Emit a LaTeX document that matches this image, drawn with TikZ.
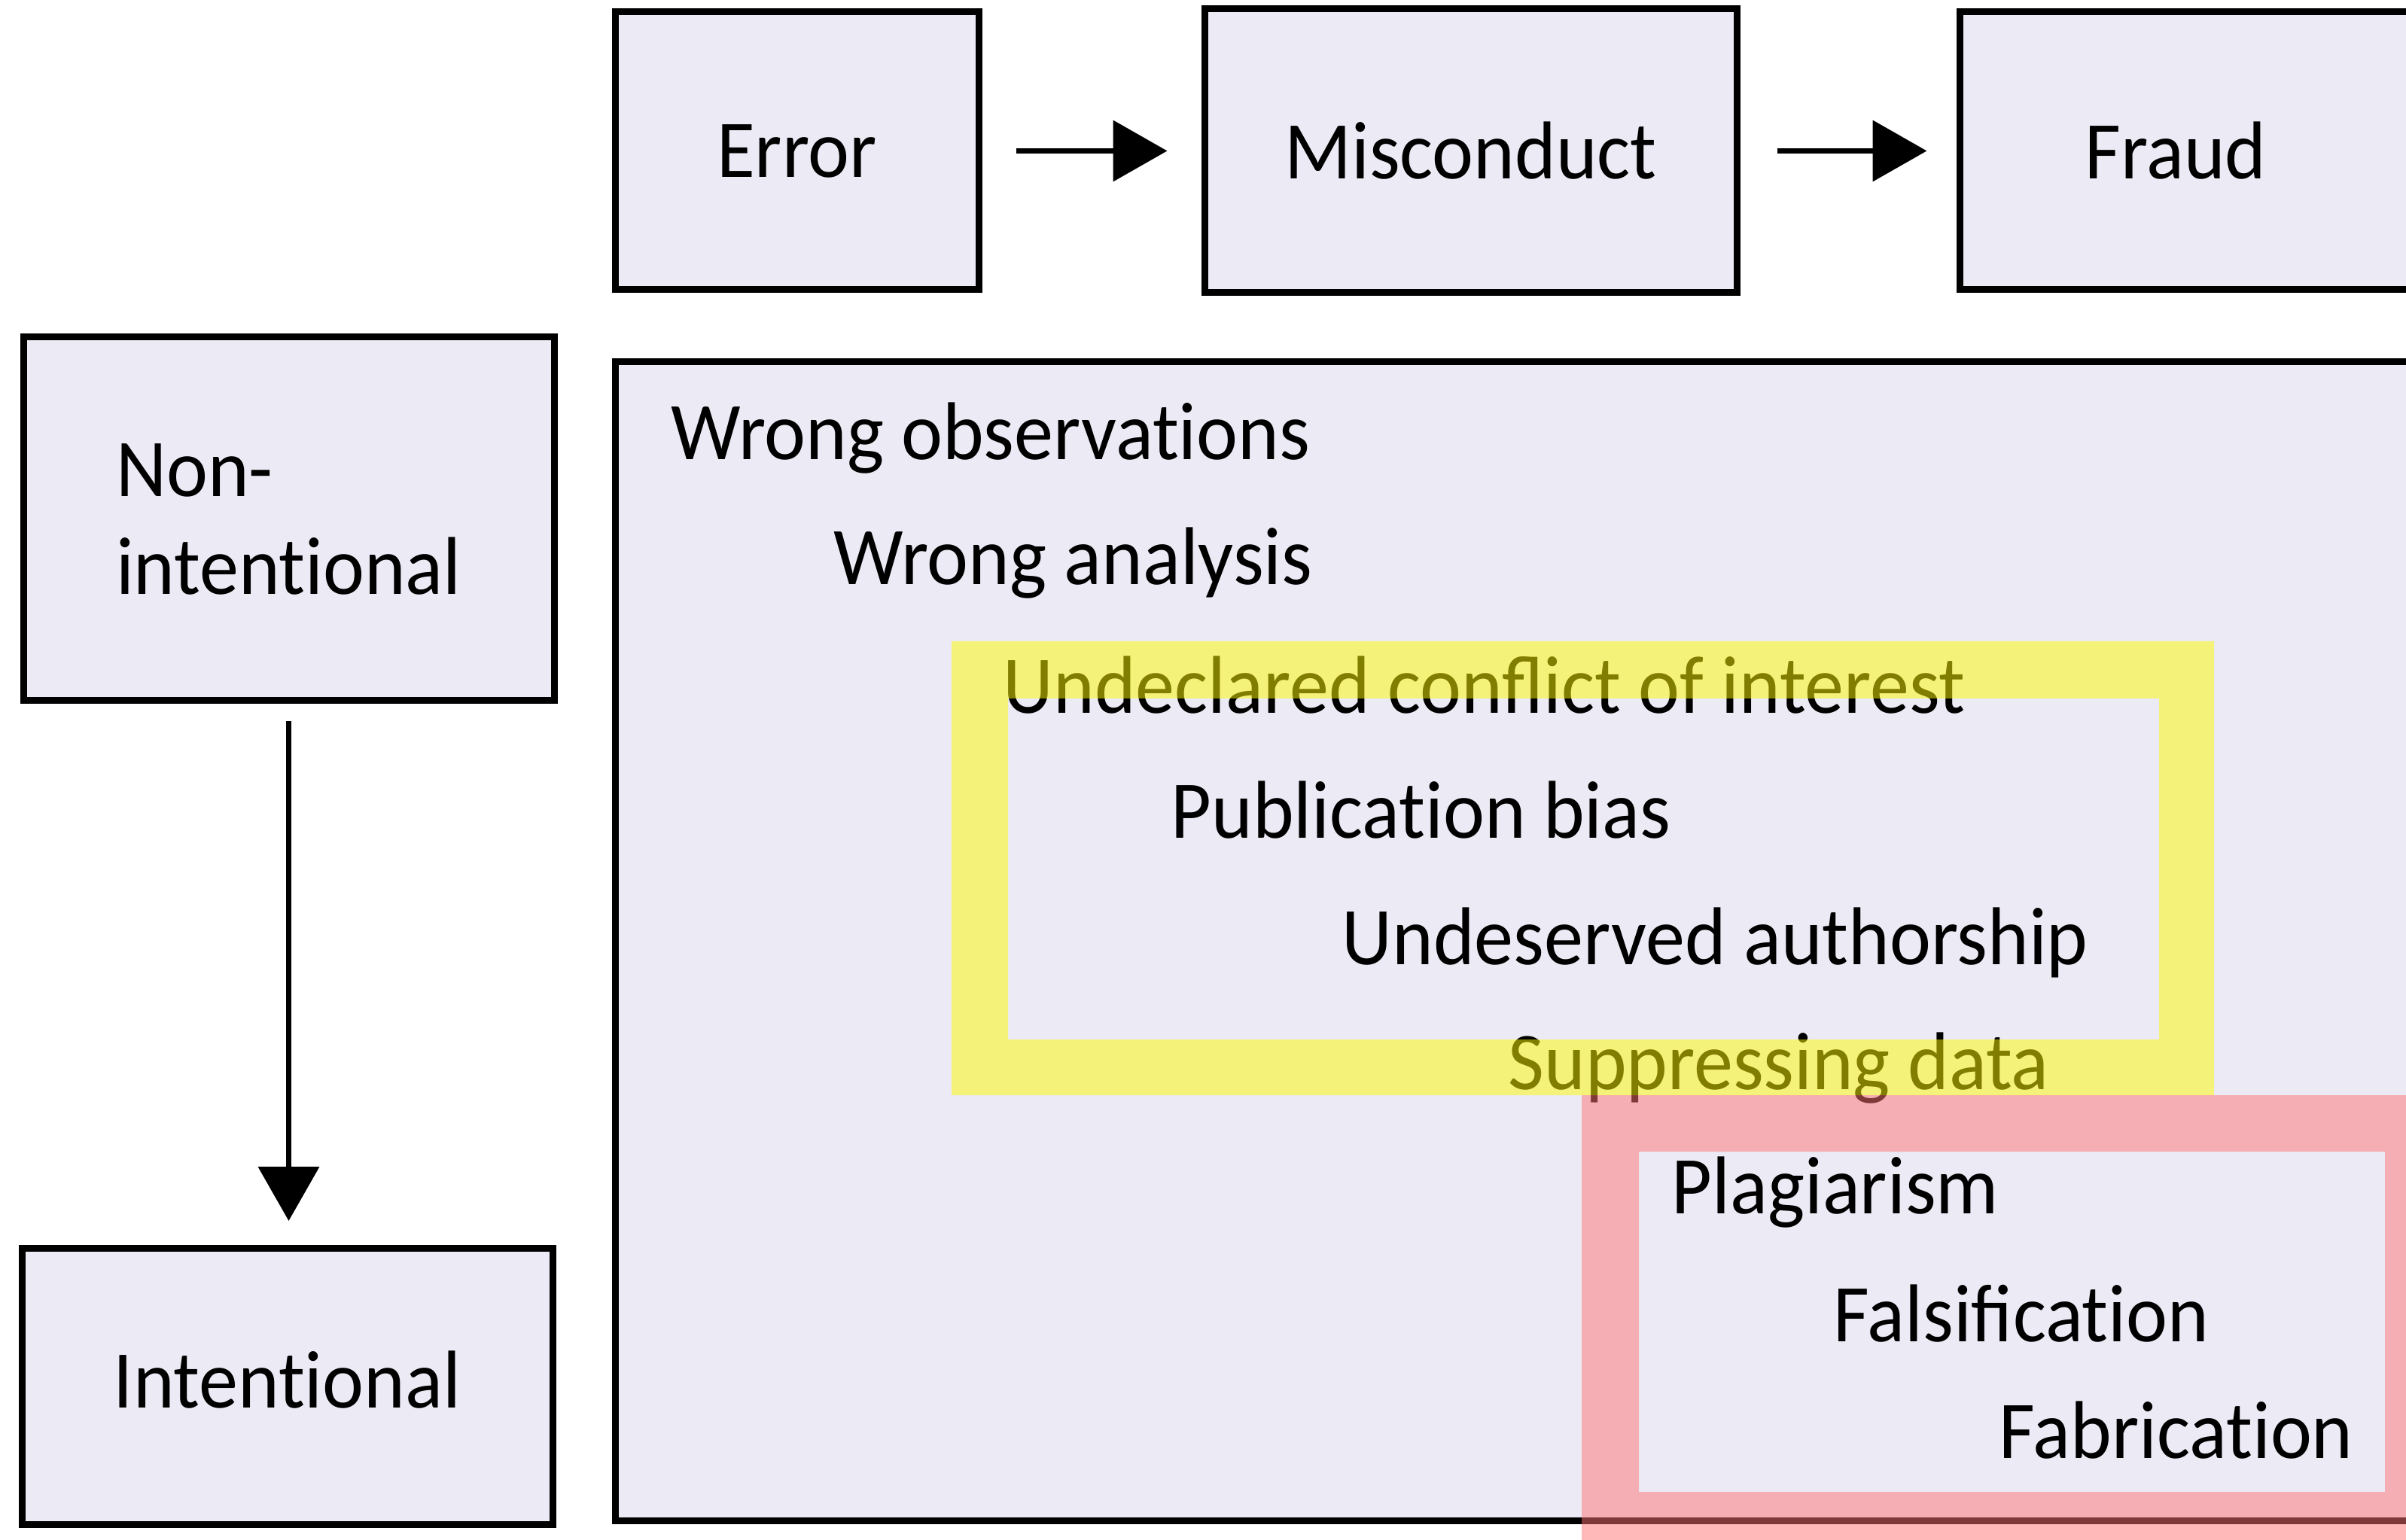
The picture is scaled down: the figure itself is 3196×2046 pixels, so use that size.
\documentclass[tikz,border=0pt]{standalone}
\usepackage{fontspec}
\setmainfont[FakeStretch=0.955]{Carlito}
\usetikzlibrary{arrows.meta}
\newcommand\tiX{t\kern0pt i}
\definecolor{boxfill}{RGB}{236,235,245}
\definecolor{hlyellow}{RGB}{255,250,0}
\definecolor{hlpink}{RGB}{255,115,115}
\tikzset{
  box/.style={draw=black, line width=0.9mm, fill=boxfill, inner sep=0pt, align=left},
  lbl/.style={anchor=base west, inner sep=0pt},
  arr/.style={line width=0.75mm, -{Triangle[length=7.2mm,width=8mm]}},
}
\begin{document}
\begin{tikzpicture}[x=0.1mm,y=-0.1mm,font=\fontsize{31pt}{37pt}\selectfont]
\useasboundingbox (0,0) rectangle (3196,2046);
\clip (0,0) rectangle (3196,2046);
% top row
\node[box, minimum width=48.3mm, minimum height=36.9mm] (error) at (1058.5,200.5) {Error};
\node[box, minimum width=70.7mm, minimum height=37.7mm] (misc) at (1953.5,200.5) {Misconduct};
\node[box, minimum width=64mm, minimum height=36.9mm] (fraud) at (2923,200.5) {};
\node[inner sep=0pt] (fraudtxt) at (2890,200.5) {Fraud};
% left column
\node[box, minimum width=70.5mm, minimum height=48.3mm] (nonint) at (383.5,689.5) {Non-\\inten\tiX onal};
\node[box, minimum width=70.5mm, minimum height=36.7mm] (intent) at (381.5,1842) {Inten\tiX onal\vphantom{g}};
% big box
\node[box, minimum width=243mm, minimum height=153.9mm] (big) at (2032,1250.5) {};
% arrows
\draw[arr, shorten <=4.5mm, shorten >=4.5mm] (error) -- (misc);
\draw[arr, shorten <=4.9mm, shorten >=3.9mm] (misc) -- (fraud.west);
\draw[arr, shorten <=2.3mm, shorten >=3.2mm] (nonint.south) -- (nonint.south |- intent.north);
% labels
\node[lbl] (t1) at (891,611) {Wrong observa\tiX ons};
\node[lbl] (t2) at (1107,777) {Wrong analysis};
\node[lbl] (t3) at (1332,948) {Undeclared conflict of interest};
\node[lbl] (t4) at (1555,1113) {Publica\tiX on bias};
\node[lbl] (t5) at (1782,1281) {Undeserved authorship};
\node[lbl] (t6) at (2003,1447) {Suppressing data};
\node[lbl] (t7) at (2220,1612) {Plagiarism};
\node[lbl] (t8) at (2435,1782) {Falsifica\tiX on};
\node[lbl] (t9) at (2655,1937) {Fabrica\tiX on};
% highlight frames
\fill[hlyellow, opacity=0.5, even odd rule] (1264,852) rectangle (2941,1455) (1339,928) rectangle (2868,1381);
\fill[hlpink, opacity=0.5, even odd rule] (2101,1455) rectangle (3245,2060) (2177,1530) rectangle (3168,1982);
\end{tikzpicture}
\end{document}
